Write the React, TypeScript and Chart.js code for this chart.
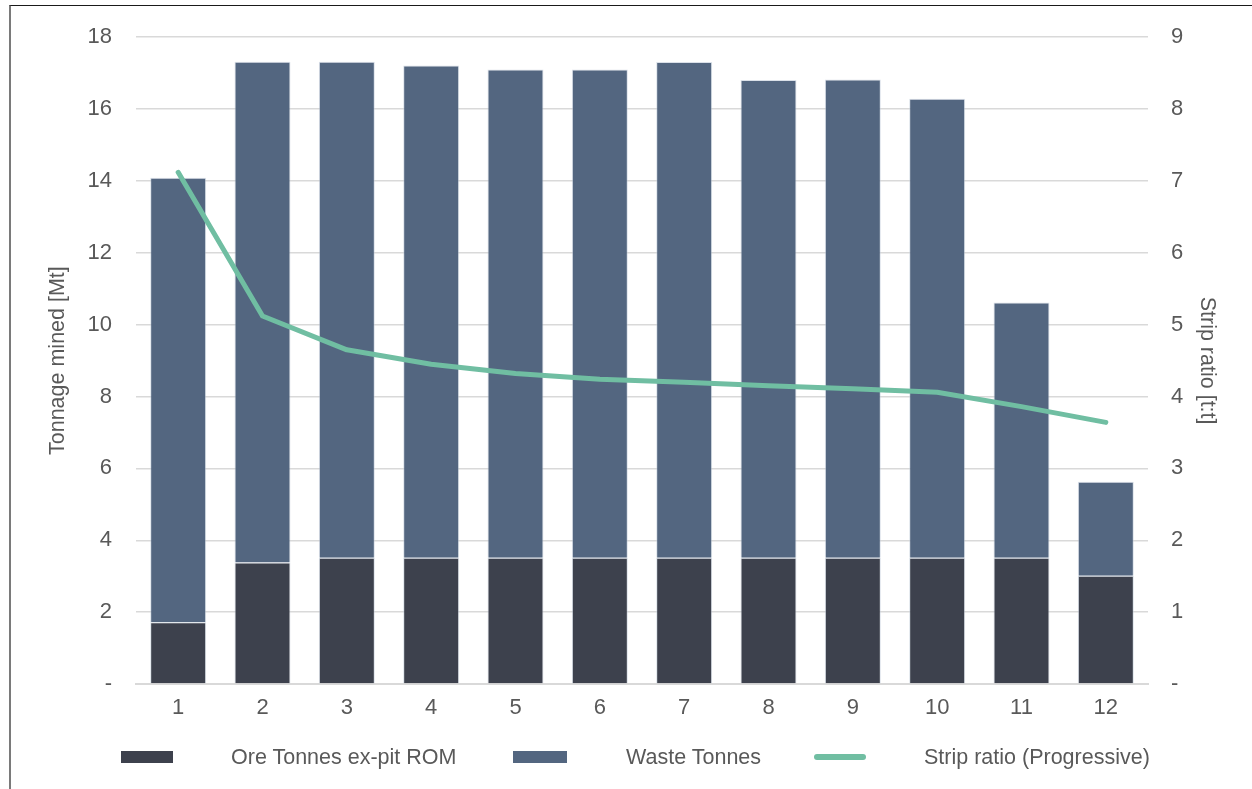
import React, { useEffect, useRef } from "react";
import { Chart, registerables } from "chart.js";

Chart.register(...registerables);

const categories = ["1", "2", "3", "4", "5", "6", "7", "8", "9", "10", "11", "12"];
const oreTonnes = [1.72, 3.38, 3.51, 3.51, 3.51, 3.51, 3.51, 3.51, 3.51, 3.51, 3.51, 3.01];
const totalTonnes = [14.09, 17.32, 17.32, 17.21, 17.1, 17.1, 17.31, 16.81, 16.82, 16.29, 10.62, 5.63];
const wasteTonnes = totalTonnes.map((t, i) => +(t - oreTonnes[i]).toFixed(2));
const stripRatio = [7.12, 5.12, 4.65, 4.45, 4.32, 4.24, 4.2, 4.15, 4.11, 4.06, 3.86, 3.64];

const legendLabels = ["Ore Tonnes ex-pit ROM", "Waste Tonnes", "Strip ratio (Progressive)"];

const ORE = "#3D414D";
const WASTE = "#536680";
const LINE = "#70BEA2";
const TEXT = "#595959";
const GRID = "#D9D9D9";
const FONT = "'Liberation Sans', Arial, sans-serif";

export default function App() {
  const ref = useRef<HTMLCanvasElement>(null);

  useEffect(() => {
    if (!ref.current) return;
    Chart.defaults.font.family = FONT;
    Chart.defaults.color = TEXT;
    const chart = new Chart(ref.current, {
      type: "bar",
      data: {
        labels: categories,
        datasets: [
          {
            type: "line",
            label: legendLabels[2],
            data: stripRatio,
            yAxisID: "y1",
            borderColor: LINE,
            backgroundColor: LINE,
            borderWidth: 5,
            pointRadius: 0,
            borderCapStyle: "round",
            borderJoinStyle: "round",
            tension: 0,
            order: 0,
          },
          {
            type: "bar",
            label: legendLabels[0],
            data: oreTonnes,
            yAxisID: "y",
            backgroundColor: ORE,
            borderColor: "rgba(190,200,215,0.55)",
            borderWidth: 1,
            barPercentage: 0.664,
            categoryPercentage: 1,
            order: 1,
          },
          {
            type: "bar",
            label: legendLabels[1],
            data: wasteTonnes,
            yAxisID: "y",
            backgroundColor: WASTE,
            borderColor: "rgba(190,200,215,0.55)",
            borderWidth: 1,
            barPercentage: 0.664,
            categoryPercentage: 1,
            order: 1,
          },
        ],
      },
      options: {
        animation: false,
        responsive: false,
        maintainAspectRatio: false,
        layout: { padding: { left: 0, right: 0, top: 35, bottom: 65 } },
        plugins: {
          legend: { display: false },
          tooltip: { enabled: false },
        },
        scales: {
          x: {
            stacked: true,
            grid: { display: false, drawTicks: false },
            border: { display: true, color: GRID, width: 2 },
            ticks: { color: TEXT, font: { size: 22, family: FONT }, padding: 11, maxRotation: 0 },
            afterFit: (s: any) => {
              s.height = 40;
            },
          },
          y: {
            stacked: true,
            position: "left",
            min: 0,
            max: 18,
            grid: { color: GRID, lineWidth: 1.5, drawTicks: false },
            border: { display: false },
            ticks: {
              stepSize: 2,
              color: TEXT,
              font: { size: 22, family: FONT },
              padding: 24,
              callback: (v: any) => (Number(v) === 0 ? "-" : String(v)),
            },
            title: {
              display: true,
              text: "Tonnage mined [Mt]",
              color: TEXT,
              font: { size: 21.5, family: FONT },
              padding: { top: 45, bottom: 0 },
            },
            afterFit: (s: any) => {
              s.width = 136;
            },
          },
          y1: {
            stacked: false,
            position: "right",
            min: 0,
            max: 9,
            grid: { display: false, drawTicks: false },
            border: { display: false },
            ticks: {
              stepSize: 1,
              color: TEXT,
              font: { size: 22, family: FONT },
              padding: 23,
              callback: (v: any) => (Number(v) === 0 ? "-" : String(v)),
            },
            title: {
              display: true,
              text: "Strip ratio [t:t]",
              color: TEXT,
              font: { size: 21.5, family: FONT },
              padding: { top: 32, bottom: 0 },
            },
            afterFit: (s: any) => {
              s.width = 104;
            },
          },
        },
      } as any,
    });
    return () => chart.destroy();
  }, []);

  const textStyle: React.CSSProperties = {
    position: "absolute",
    top: 744,
    height: 26,
    lineHeight: "26px",
    fontFamily: FONT,
    fontSize: 21.5,
    color: TEXT,
    whiteSpace: "nowrap",
  };

  return (
    <div
      style={{
        position: "absolute",
        left: 0,
        top: 0,
        width: 1252,
        height: 789,
        overflow: "hidden",
        background: "#fff",
      }}
    >
      <canvas ref={ref} width={1252} height={789} style={{ position: "absolute", left: 0, top: 0 }} />
      <div
        style={{
          position: "absolute",
          left: 9,
          top: 5,
          width: 1300,
          height: 900,
          borderTop: "1.5px solid #1a1a1a",
          borderLeft: "2px solid #7a7a7a",
          pointerEvents: "none",
        }}
      />
      <div style={{ position: "absolute", left: 121, top: 751, width: 52, height: 12, background: ORE }} />
      <span style={{ ...textStyle, left: 231 }}>{legendLabels[0]}</span>
      <div style={{ position: "absolute", left: 513, top: 751, width: 54, height: 12, background: WASTE }} />
      <span style={{ ...textStyle, left: 626 }}>{legendLabels[1]}</span>
      <div
        style={{ position: "absolute", left: 814, top: 754, width: 52, height: 6, borderRadius: 3, background: LINE }}
      />
      <span style={{ ...textStyle, left: 924 }}>{legendLabels[2]}</span>
    </div>
  );
}
